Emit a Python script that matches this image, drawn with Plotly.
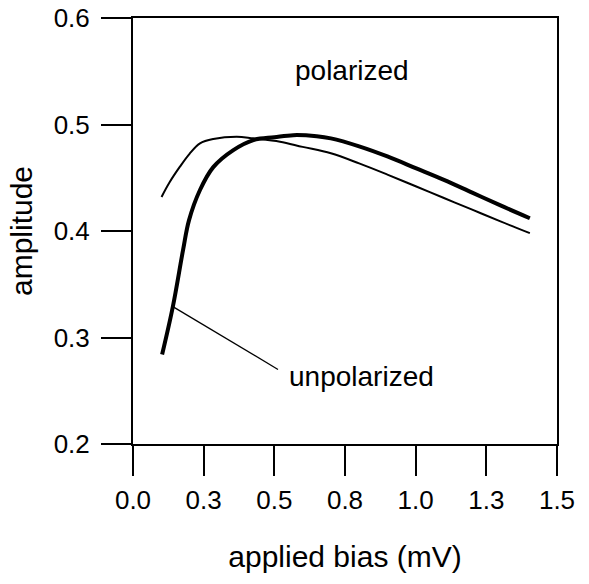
import plotly.graph_objects as go

# polarized (thin line)
pol_x = [0.101, 0.13, 0.166, 0.20, 0.237, 0.284, 0.367, 0.426, 0.52, 0.60, 0.70,
         0.80, 0.90, 1.00, 1.10, 1.20, 1.30, 1.404]
pol_y = [0.432, 0.446, 0.4604, 0.4725, 0.4823, 0.4864, 0.4886, 0.487, 0.4839, 0.479,
         0.473, 0.4635, 0.453, 0.442, 0.431, 0.420, 0.409, 0.398]

# unpolarized (thick line)
unp_x = [0.103, 0.141, 0.177, 0.198, 0.237, 0.284, 0.355, 0.426, 0.50, 0.567, 0.65,
         0.70, 0.80, 0.90, 1.00, 1.10, 1.20, 1.30, 1.404]
unp_y = [0.284, 0.329, 0.382, 0.410, 0.4385, 0.460, 0.476, 0.4854, 0.488, 0.490,
         0.489, 0.487, 0.4795, 0.470, 0.459, 0.448, 0.436, 0.424, 0.412]

x_tickvals = [0.0, 0.25, 0.5, 0.75, 1.0, 1.25, 1.5]
x_ticktext = ["0.0", "0.3", "0.5", "0.8", "1.0", "1.3", "1.5"]
y_tickvals = [0.2, 0.3, 0.4, 0.5, 0.6]
y_ticktext = ["0.2", "0.3", "0.4", "0.5", "0.6"]

# labels
pol_label = ("polarized", 0.773, 0.551)
unp_label = ("unpolarized", 0.81, 0.263)
leader_from = (0.141, 0.329)
leader_to = (0.513, 0.270)

FONT = "Liberation Sans, Arial, Helvetica, sans-serif"

fig = go.Figure()
fig.add_trace(go.Scatter(x=pol_x, y=pol_y, mode="lines", name="polarized",
                         line=dict(color="black", width=2, shape="spline", smoothing=1.0),
                         showlegend=False))
fig.add_trace(go.Scatter(x=unp_x, y=unp_y, mode="lines", name="unpolarized",
                         line=dict(color="black", width=4, shape="spline", smoothing=1.0),
                         showlegend=False))

fig.add_shape(type="line", xref="x", yref="y",
              x0=leader_from[0], y0=leader_from[1], x1=leader_to[0], y1=leader_to[1],
              line=dict(color="black", width=1.3))

for txt, tx, ty in (pol_label, unp_label):
    fig.add_annotation(x=tx, y=ty, xref="x", yref="y", text=txt, showarrow=False,
                       font=dict(family=FONT, size=28, color="black"))

axis_common = dict(showline=True, linecolor="black", linewidth=2, mirror=True,
                   ticks="outside", ticklen=30, tickwidth=2, tickcolor="black",
                   showgrid=False, zeroline=False,
                   tickfont=dict(family=FONT, size=26, color="black"))

fig.update_xaxes(range=[0, 1.5], tickvals=x_tickvals, ticktext=x_ticktext,
                 title=dict(text="applied bias (mV)", standoff=32,
                            font=dict(family=FONT, size=30, color="black")),
                 ticklabelstandoff=2,
                 **axis_common)
fig.update_yaxes(range=[0.2, 0.6], tickvals=y_tickvals, ticktext=y_ticktext,
                 title=dict(text="amplitude", standoff=12,
                            font=dict(family=FONT, size=30, color="black")),
                 ticklabelstandoff=6,
                 **axis_common)

fig.update_layout(width=589, height=584,
                  margin=dict(l=133, r=32, t=18, b=140, autoexpand=False),
                  plot_bgcolor="white", paper_bgcolor="white")

fig.write_html("out.html", config={"displayModeBar": False},
               post_script="document.body.style.margin='0';document.body.style.overflow='hidden';")
